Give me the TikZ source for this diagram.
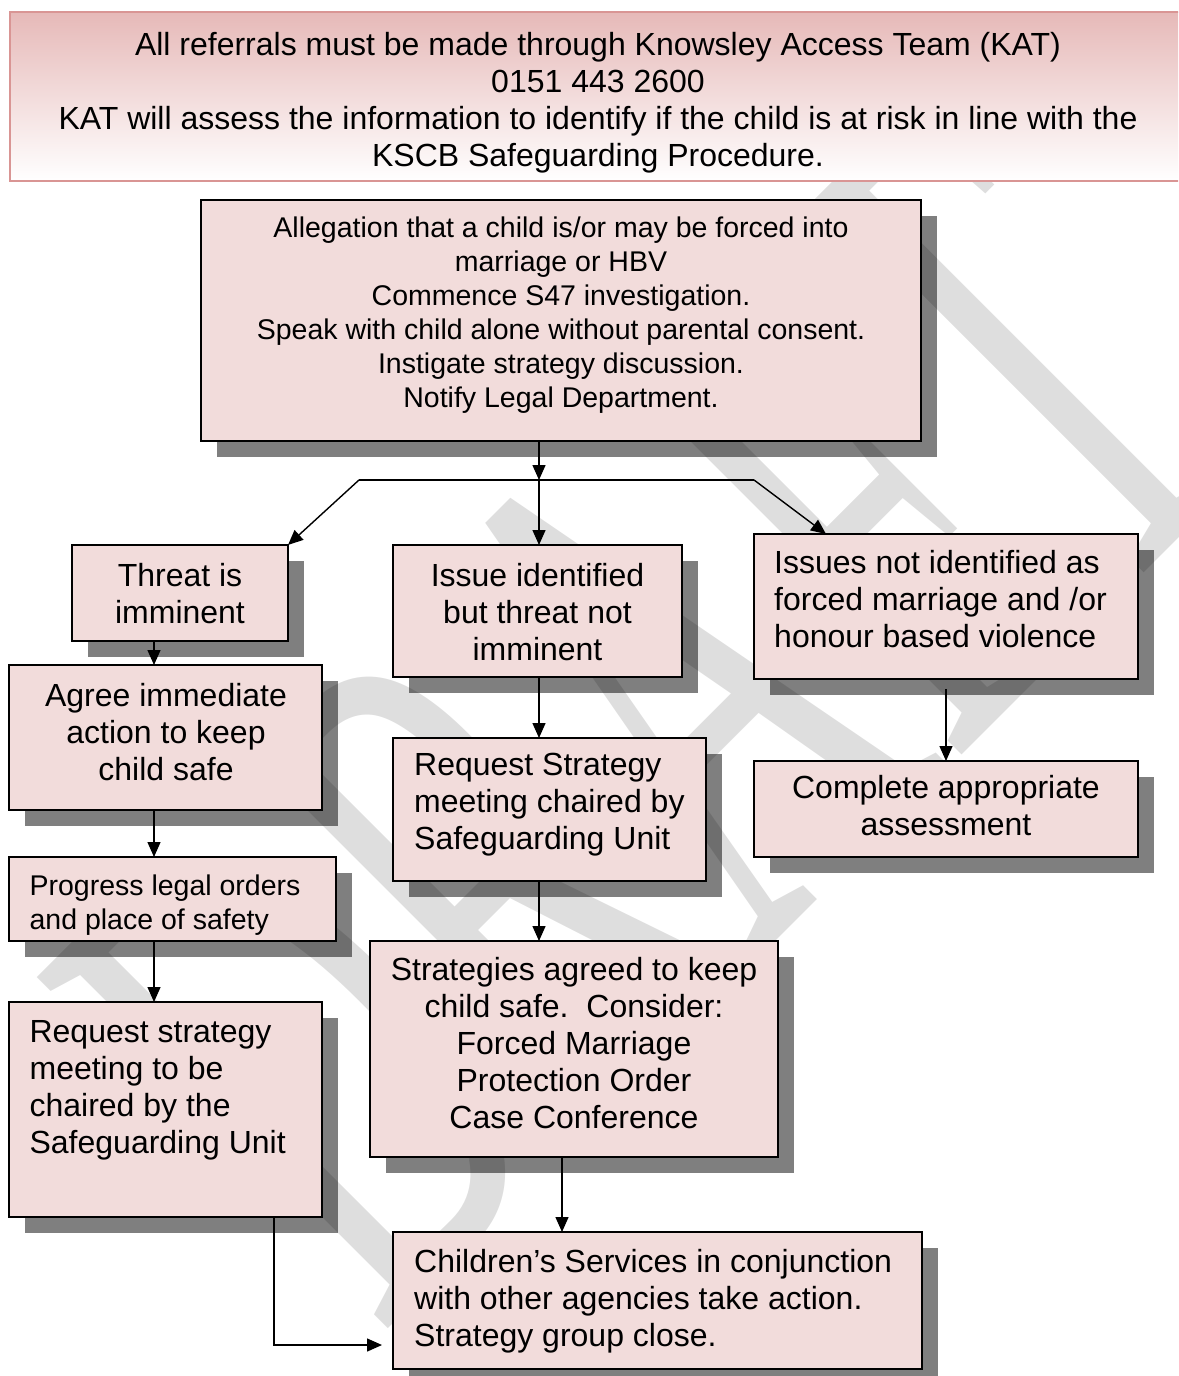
\documentclass[tikz,border=0pt]{standalone}
\usepackage{fontspec}
\setmainfont{Liberation Sans}
\newfontfamily\wmfont{Liberation Serif}
\usetikzlibrary{arrows.meta,shadows,calc}
\definecolor{boxpink}{HTML}{F2DCDB}
\definecolor{bannertop}{HTML}{E6B9B8}
\definecolor{bannerline}{HTML}{D99594}
\definecolor{wmgrey}{HTML}{DEDEDE}
% invisible rule fixing the height of a first text line
\newcommand{\firstln}[1]{\rule{0pt}{#1}}

\begin{document}
\begin{tikzpicture}[x=1pt,y=-1pt,
  flowbox/.style={draw=black, line width=2pt, fill=boxpink, rectangle,
    inner sep=0pt, outer sep=0pt, anchor=north west,
    drop shadow={shadow xshift=16pt, shadow yshift=-16pt, fill=black, opacity=0.5}},
  bigtxt/.style={font=\fontsize{32}{37}\selectfont, inner sep=0pt},
  smalltxt/.style={font=\fontsize{28.5}{34}\selectfont, inner sep=0pt},
  link/.style={line width=1.4pt, -{Triangle[length=15pt,width=13pt]}},
  plainlink/.style={line width=1.4pt}
]
\useasboundingbox (0,0) rectangle (1178,1376);
\clip (0,0) rectangle (1178,1376);

% watermark
\node[rotate=45, inner sep=0pt, text=wmgrey] (wm) at (648,716)
  {\scalebox{1}[1.98]{\fontsize{383}{383}\wmfont DRAFT}};

% heading banner
\node[draw=bannerline, line width=2pt, top color=bannertop, bottom color=white,
  minimum width=1178pt, minimum height=169pt, anchor=north west, inner sep=0pt] (ban) at (9,11) {};
\node[bigtxt, align=center, anchor=north] (banT) at (598,30)
  {\firstln{25pt}All referrals must be made through Knowsley Access Team (KAT)\\
   0151 443 2600\\
   KAT will assess the information to identify if the child is at risk in line with the\\
   KSCB Safeguarding Procedure.};

% boxes
\node[flowbox, minimum width=720pt, minimum height=241pt] (alg) at (201,200) {};
\node[flowbox, minimum width=216.5pt, minimum height=96pt] (thr) at (71.5,545) {};
\node[flowbox, minimum width=289pt, minimum height=132pt] (iss) at (393,545) {};
\node[flowbox, minimum width=384pt, minimum height=145pt] (nis) at (754,534) {};
\node[flowbox, minimum width=312.6pt, minimum height=145pt] (agr) at (9.4,665) {};
\node[flowbox, minimum width=313pt, minimum height=143pt] (rqs) at (393,738) {};
\node[flowbox, minimum width=384pt, minimum height=96pt] (cpl) at (754,761) {};
\node[flowbox, minimum width=326.6pt, minimum height=84pt] (prg) at (9.4,857) {};
\node[flowbox, minimum width=408pt, minimum height=216pt] (stg) at (370,941) {};
\node[flowbox, minimum width=312.6pt, minimum height=215pt] (rql) at (9.4,1002) {};
\node[flowbox, minimum width=529pt, minimum height=137pt] (chl) at (393,1232) {};

% box texts
\node[smalltxt, align=center, anchor=north] (algT) at (561,215)
  {\firstln{22pt}Allegation that a child is/or may be forced into\\
   marriage or HBV\\
   Commence S47 investigation.\\
   Speak with child alone without parental consent.\\
   Instigate strategy discussion.\\
   Notify Legal Department.};
\node[bigtxt, align=center, anchor=north] (thrT) at (180,561)
  {\firstln{25pt}Threat is\\imminent};
\node[bigtxt, align=center, anchor=north] (issT) at (537.5,561)
  {\firstln{25pt}Issue identified\\but threat not\\imminent};
\node[bigtxt, align=left, anchor=north west] (nisT) at (774,548)
  {\firstln{25pt}Issues not identified as\\forced marriage and /or\\honour based violence};
\node[bigtxt, align=center, anchor=north] (agrT) at (166,681)
  {\firstln{25pt}Agree immediate\\action to keep\\child safe};
\node[bigtxt, align=left, anchor=north west] (rqsT) at (414,750)
  {\firstln{25pt}Request Strategy\\meeting chaired by\\Safeguarding Unit};
\node[bigtxt, align=center, anchor=north] (cplT) at (946,773)
  {\firstln{25pt}Complete appropriate\\assessment};
\node[smalltxt, align=left, anchor=north west] (prgT) at (29.4,873)
  {\firstln{22pt}Progress legal orders\\and place of safety};
\node[bigtxt, align=center, anchor=north] (stgT) at (574,955)
  {\firstln{25pt}Strategies agreed to keep\\
   child safe.\hspace{17.8pt}Consider:\\
   Forced Marriage\\Protection Order\\Case Conference};
\node[bigtxt, align=left, anchor=north west] (rqlT) at (29.4,1017)
  {\firstln{25pt}Request strategy\\meeting to be\\chaired by the\\Safeguarding Unit};
\node[bigtxt, align=left, anchor=north west] (chlT) at (414,1247)
  {\firstln{25pt}Children’s Services in conjunction\\
   with other agencies take action.\\
   Strategy group close.};

% connectors
\coordinate (jL) at (359,480);
\coordinate (jM) at (539,480);
\coordinate (jR) at (754,480);
\coordinate (cL) at (154,0);
\coordinate (cS) at (562,0);
\coordinate (bend) at (274,1345);

\draw[link] (alg.south -| jM) -- (jM);
\draw[plainlink] (jL) -- (jR);
\draw[link] (jL) -- (thr.north east);
\draw[link] (jM) -- (iss.north -| jM);
\draw[link] (jR) -- ($(nis.north west)+(72,0)$);

\draw[link] (thr.south -| cL) -- (agr.north -| cL);
\draw[link] (agr.south -| cL) -- (prg.north -| cL);
\draw[link] (prg.south -| cL) -- (rql.north -| cL);

\draw[link] (iss.south -| jM) -- (rqs.north -| jM);
\draw[link] (rqs.south -| jM) -- (stg.north -| jM);
\draw[link] (stg.south -| cS) -- (chl.north -| cS);

\draw[link, shorten <=10pt] (nis.south) -- (cpl.north);
\draw[link, shorten >=11pt] (rql.south -| bend) -- (bend) -- (bend -| chl.west);
\end{tikzpicture}
\end{document}
